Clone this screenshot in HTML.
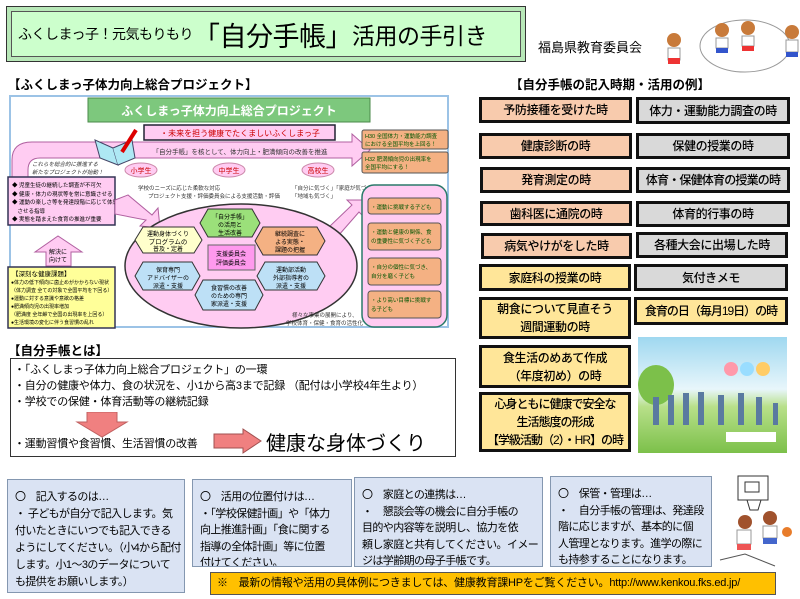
<!DOCTYPE html>
<html><head><meta charset="utf-8">
<style>
*{margin:0;padding:0;box-sizing:border-box}
body{width:800px;height:599px;background:#fff;position:relative;overflow:hidden;font-family:"Liberation Sans","Noto Sans CJK JP",sans-serif;color:#000}
.a{position:absolute}
.hd{font-size:12.5px;font-weight:bold;white-space:nowrap}
.rb{position:absolute;border:3px solid #111;font-size:12px;letter-spacing:-0.4px;display:flex;align-items:center;justify-content:center;text-align:center;line-height:18px;white-space:nowrap;font-weight:500}
.pk{background:#f8cbad}.ye{background:#ffe699}.gr{background:#d9d9d9}
.bx{position:absolute;background:#dae3f3;border:1.5px solid #8497b0;font-size:11px;letter-spacing:-0.6px;line-height:16.5px;padding:9px 4px 0 7px;white-space:nowrap;overflow:hidden}
</style></head><body>

<!-- Title -->
<div class="a" style="left:6px;top:6px;width:520px;height:56px;background:#ccffcc;border:1px solid #333;box-shadow:inset 0 0 0 4px #b8e8b8, inset 0 0 0 5px #555"></div>
<div class="a" style="left:18px;top:14px;height:40px;display:flex;align-items:center;white-space:nowrap;letter-spacing:-0.5px">
<span style="font-size:14px">ふくしまっ子！元気もりもり</span><span style="font-size:27px">「自分手帳」</span><span style="font-size:23px">活用の手引き</span></div>
<div class="a" style="left:538px;top:37px;font-size:13px">福島県教育委員会</div>
<svg class="a" style="left:630px;top:18px" width="170" height="60">
<ellipse cx="115" cy="28" rx="45" ry="26" fill="none" stroke="#999"/>
<circle cx="44" cy="22" r="7" fill="#c87a3a"/><rect x="38" y="30" width="12" height="12" fill="#fff" stroke="#999"/><rect x="38" y="40" width="12" height="6" fill="#e33"/>
<circle cx="92" cy="12" r="7" fill="#c87a3a"/><rect x="86" y="20" width="12" height="10" fill="#fff" stroke="#999"/><rect x="86" y="30" width="12" height="5" fill="#35c"/>
<circle cx="118" cy="10" r="7" fill="#c87a3a"/><rect x="112" y="18" width="12" height="10" fill="#fff" stroke="#999"/><rect x="112" y="28" width="12" height="5" fill="#e33"/>
<circle cx="162" cy="14" r="7" fill="#c87a3a"/><rect x="156" y="22" width="12" height="12" fill="#fff" stroke="#999"/><rect x="156" y="34" width="12" height="5" fill="#35c"/>
</svg>

<!-- Project section -->
<div class="a hd" style="left:8px;top:74px">【ふくしまっ子体力向上総合プロジェクト】</div>
<svg class="a" style="left:0;top:0" width="460" height="340" font-family="Liberation Sans, Noto Sans CJK JP, sans-serif">
<rect x="10" y="96" width="438" height="231" fill="#fff" stroke="#9cc3e6" stroke-width="2"/>
<path d="M12 178 V160 Q12 142 32 142 H352 V134 L370 150 L352 166 V158 H40 Q28 158 28 170 V178 Z" fill="#ffccf2" stroke="#b060a0"/>
<rect x="88" y="98" width="282" height="24" fill="#7dc87d" stroke="#4a8a4a"/>
<text x="229" y="115" font-size="12" fill="#fff" text-anchor="middle" font-weight="bold">ふくしまっ子体力向上総合プロジェクト</text>
<rect x="144" y="125" width="191" height="15" fill="#ffccf2" stroke="#223" stroke-width="1.5"/>
<text x="240" y="136" font-size="8" fill="#c00" text-anchor="middle">・未来を担う健康でたくましいふくしまっ子</text>
<text x="240" y="154" font-size="6.5" fill="#333" text-anchor="middle">「自分手帳」を核として、体力向上・肥満傾向の改善を推進</text>
<path d="M95 140 L113 148 L118 165 L100 158 Z" fill="#aee8f4" stroke="#446"/><path d="M118 165 L135 158 L132 140 L113 148" fill="#aee8f4" stroke="#446"/>
<line x1="122" y1="152" x2="136" y2="130" stroke="#d00" stroke-width="4"/>
<rect x="362" y="130" width="86" height="19" rx="2" fill="#f4b183" stroke="#555"/>
<text x="365" y="138" font-size="5.5" fill="#050">H30 全国体力・運動能力調査</text><text x="365" y="146" font-size="5.5" fill="#050">における全国平均を上回る！</text>
<rect x="362" y="152" width="86" height="21" rx="2" fill="#f4b183" stroke="#555"/>
<text x="365" y="161" font-size="5.5" fill="#050">H32 肥満傾向児の出現率を</text><text x="365" y="169" font-size="5.5" fill="#050">全国平均にする！</text>
<text x="32" y="166" font-size="5.5" fill="#333" font-style="italic">これらを総合的に推進する</text>
<text x="32" y="174" font-size="5.5" fill="#333" font-style="italic">新たなプロジェクトが始動！</text>
<ellipse cx="141" cy="170" rx="16" ry="7" fill="#ffccf2" stroke="#c8a"/><text x="141" y="173" font-size="7" fill="#c00" text-anchor="middle">小学生</text>
<ellipse cx="229" cy="170" rx="16" ry="7" fill="#ffccf2" stroke="#c8a"/><text x="229" y="173" font-size="7" fill="#c00" text-anchor="middle">中学生</text>
<ellipse cx="318" cy="170" rx="16" ry="7" fill="#ffccf2" stroke="#c8a"/><text x="318" y="173" font-size="7" fill="#c00" text-anchor="middle">高校生</text>
<text x="138" y="190" font-size="5.5" fill="#333">学校のニーズに応じた柔軟な対応</text>
<text x="148" y="198" font-size="5.5" fill="#333">プロジェクト支援・評価委員会による支援活動・評価</text>
<text x="292" y="190" font-size="5.5" fill="#333">「自分に気づく」「家庭が気づく」</text>
<text x="292" y="198" font-size="5.5" fill="#333">「地域も気づく」</text>
<rect x="8" y="177" width="107" height="48" fill="#ffccf2" stroke="#335" stroke-width="1.5"/>
<text x="12" y="187" font-size="5.5">◆ 児童生徒の継続した調査が不可欠</text>
<text x="12" y="196" font-size="5.5">◆ 健康・体力の現状等を常に意識させる</text>
<text x="12" y="204" font-size="5.5">◆ 運動の楽しさ等を発達段階に応じて体感</text>
<text x="12" y="213" font-size="5.5">　させる指導</text>
<text x="12" y="221" font-size="5.5">◆ 実態を踏まえた食育の推進が重要</text>
<path d="M115 200 L128 195 L152 215 L158 208 L160 228 L140 226 L146 220 L115 214 Z" fill="#ffccf2" stroke="#b060a0"/>
<path d="M328 228 L352 205 L347 200 L368 200 L365 218 L359 212 L338 236 Z" fill="#ffccf2" stroke="#b060a0"/>
<path d="M46 266 V252 H35 L58 236 L82 252 H71 V266 Z" fill="#ffccf2" stroke="#b060a0"/>
<text x="58" y="254" font-size="6" text-anchor="middle">解決に</text><text x="58" y="262" font-size="6" text-anchor="middle">向けて</text>
<rect x="8" y="267" width="107" height="61" fill="#ffff99" stroke="#335" stroke-width="1.5"/>
<text x="12" y="276" font-size="6.5">【深刻な健康課題】</text>
<text x="11" y="284" font-size="5">●体力の低下傾向に歯止めがかからない現状</text>
<text x="11" y="292" font-size="5">（体力調査 全ての対象で全国平均を下回る）</text>
<text x="11" y="300" font-size="5">●運動に対する意識や意欲の格差</text>
<text x="11" y="308" font-size="5">●肥満傾向児の出現率増加</text>
<text x="11" y="316" font-size="5">（肥満度 全年齢で全国の出現率を上回る）</text>
<text x="11" y="324" font-size="5">●生活環境の変化に伴う食習慣の乱れ</text>
<ellipse cx="241" cy="266" rx="116" ry="62" fill="#ffccf2" stroke="#333" stroke-width="1.5"/>
<polygon points="208,209 252,209 260,223 252,237 208,237 200,223" fill="#9be07a" stroke="#333"/>
<text x="230" y="219" font-size="6" text-anchor="middle">「自分手帳」</text><text x="230" y="227" font-size="6" text-anchor="middle">の活用と</text><text x="230" y="235" font-size="6" text-anchor="middle">生活改善</text>
<polygon points="143,227 194,227 202,240 194,253 143,253 135,240" fill="#ffffcc" stroke="#333"/>
<text x="168" y="236" font-size="6" text-anchor="middle">運動身体づくり</text><text x="168" y="244" font-size="6.5" text-anchor="middle">プログラムの</text><text x="168" y="251" font-size="6" text-anchor="middle">普及・定着</text>
<polygon points="263,227 317,227 325,241 317,255 263,255 255,241" fill="#f4b183" stroke="#333"/>
<text x="290" y="236" font-size="6" text-anchor="middle">継続調査に</text><text x="290" y="244" font-size="6" text-anchor="middle">よる実態・</text><text x="290" y="252" font-size="6" text-anchor="middle">課題の把握</text>
<rect x="208" y="245" width="47" height="25" fill="#ff99ee" stroke="#666"/>
<text x="231" y="256" font-size="6" text-anchor="middle">支援委員会</text><text x="231" y="265" font-size="6" text-anchor="middle">評価委員会</text>
<polygon points="143,262 192,262 200,276 192,290 143,290 135,276" fill="#bde0f6" stroke="#333"/>
<text x="168" y="272" font-size="6" text-anchor="middle">保育専門</text><text x="168" y="280" font-size="6" text-anchor="middle">アドバイザーの</text><text x="168" y="288" font-size="6" text-anchor="middle">派遣・支援</text>
<polygon points="265,262 317,262 325,276 317,290 265,290 257,276" fill="#bde0f6" stroke="#333"/>
<text x="291" y="272" font-size="6" text-anchor="middle">運動部活動</text><text x="291" y="280" font-size="6" text-anchor="middle">外部指導者の</text><text x="291" y="288" font-size="6" text-anchor="middle">派遣・支援</text>
<polygon points="203,280 255,280 263,295 255,310 203,310 195,295" fill="#bde0f6" stroke="#333"/>
<text x="229" y="290" font-size="6" text-anchor="middle">食習慣の改善</text><text x="229" y="298" font-size="6" text-anchor="middle">のための専門</text><text x="229" y="306" font-size="6" text-anchor="middle">家派遣・支援</text>
<text x="292" y="317" font-size="5.5" fill="#333">様々な事業の展開により、</text>
<text x="286" y="325" font-size="5.5" fill="#333">学校体育・保健・食育の活性化</text>
<rect x="362" y="185" width="85" height="142" rx="12" fill="#ffccf2" stroke="#2a7a6a" stroke-width="1.5"/>
<rect x="368" y="198" width="73" height="16" rx="3" fill="#f4b183" stroke="#555"/><text x="371" y="209" font-size="5.5" fill="#050">・運動に挑戦する子ども</text>
<rect x="368" y="223" width="73" height="27" rx="3" fill="#f4b183" stroke="#555"/><text x="371" y="234" font-size="5.5" fill="#050">・運動と健康の関係、食</text><text x="371" y="243" font-size="5.5" fill="#050">の重要性に気づく子ども</text>
<rect x="368" y="258" width="73" height="27" rx="3" fill="#f4b183" stroke="#555"/><text x="371" y="269" font-size="5.5" fill="#050">・自分の個性に気づき、</text><text x="371" y="278" font-size="5.5" fill="#050">自分を磨く子ども</text>
<rect x="368" y="291" width="73" height="27" rx="3" fill="#f4b183" stroke="#555"/><text x="371" y="302" font-size="5.5" fill="#050">・より高い目標に挑戦す</text><text x="371" y="311" font-size="5.5" fill="#050">る子ども</text>
</svg>

<!-- 自分手帳とは -->
<div class="a hd" style="left:8px;top:340px">【自分手帳とは】</div>
<div class="a" style="left:10px;top:358px;width:446px;height:99px;border:1px solid #333"></div>
<div class="a" style="left:14px;top:362px;font-size:11px;letter-spacing:-0.2px;line-height:16px;white-space:nowrap">・「ふくしまっ子体力向上総合プロジェクト」の一環<br>・自分の健康や体力、食の状況を、小1から高3まで記録 （配付は小学校4年生より）<br>・学校での保健・体育活動等の継続記録</div>
<svg class="a" style="left:75px;top:412px" width="60" height="26"><polygon points="12,0 42,0 42,10 52,10 27,25 2,10 12,10" fill="#f08080" stroke="#c06060"/></svg>
<div class="a" style="left:14px;top:435px;font-size:11px;letter-spacing:-0.2px;white-space:nowrap">・運動習慣や食習慣、生活習慣の改善</div>
<svg class="a" style="left:213px;top:428px" width="50" height="26"><polygon points="1,6 30,6 30,1 48,13 30,25 30,20 1,20" fill="#f08080" stroke="#a05050"/></svg>
<div class="a" style="left:266px;top:427px;font-size:20px;white-space:nowrap">健康な身体づくり</div>

<!-- Right column -->
<div class="a hd" style="left:510px;top:74px">【自分手帳の記入時期・活用の例】</div>
<div class="rb pk" style="left:479px;top:97px;width:153px;height:26px">予防接種を受けた時</div>
<div class="rb gr" style="left:636px;top:97px;width:154px;height:27px">体力・運動能力調査の時</div>
<div class="rb pk" style="left:479px;top:133px;width:153px;height:26px">健康診断の時</div>
<div class="rb gr" style="left:636px;top:133px;width:154px;height:26px">保健の授業の時</div>
<div class="rb pk" style="left:480px;top:167px;width:152px;height:26px">発育測定の時</div>
<div class="rb gr" style="left:636px;top:167px;width:154px;height:26px;letter-spacing:-0.8px">体育・保健体育の授業の時</div>
<div class="rb pk" style="left:480px;top:201px;width:152px;height:25px">歯科医に通院の時</div>
<div class="rb gr" style="left:636px;top:201px;width:154px;height:26px">体育的行事の時</div>
<div class="rb pk" style="left:481px;top:233px;width:151px;height:26px">病気やけがをした時</div>
<div class="rb gr" style="left:636px;top:232px;width:152px;height:26px">各種大会に出場した時</div>
<div class="rb ye" style="left:479px;top:264px;width:152px;height:27px">家庭科の授業の時</div>
<div class="rb gr" style="left:634px;top:264px;width:154px;height:27px">気付きメモ</div>
<div class="rb ye" style="left:479px;top:297px;width:152px;height:42px">朝食について見直そう<br>週間運動の時</div>
<div class="rb ye" style="left:634px;top:297px;width:154px;height:28px;letter-spacing:-1px">食育の日（毎月19日）の時</div>
<div class="rb ye" style="left:479px;top:345px;width:152px;height:43px">食生活のめあて作成<br>（年度初め）の時</div>
<div class="rb ye" style="left:479px;top:392px;width:152px;height:60px;letter-spacing:-1px">心身ともに健康で安全な<br>生活態度の形成<br>【学級活動（2）・HR】の時</div>
<svg class="a" style="left:638px;top:337px" width="149" height="116">
<defs><linearGradient id="g" x1="0" y1="0" x2="0" y2="1"><stop offset="0" stop-color="#9fd8f0"/><stop offset="0.45" stop-color="#e8f6fb"/><stop offset="0.6" stop-color="#b8e08a"/><stop offset="1" stop-color="#7cc04a"/></linearGradient></defs>
<rect width="149" height="116" fill="url(#g)"/>
<ellipse cx="18" cy="48" rx="18" ry="20" fill="#7cc04a"/>
<circle cx="93" cy="32" r="7" fill="#f9a"/><circle cx="109" cy="32" r="7" fill="#9df"/><circle cx="125" cy="32" r="7" fill="#fc6"/>
<g fill="#5a7aa0"><rect x="15" y="60" width="6" height="28"/><rect x="30" y="58" width="6" height="30"/><rect x="45" y="56" width="6" height="32"/><rect x="60" y="55" width="6" height="33"/><rect x="80" y="58" width="6" height="30"/><rect x="100" y="56" width="6" height="32"/><rect x="118" y="60" width="6" height="28"/><rect x="135" y="66" width="5" height="22"/></g>
<rect x="88" y="95" width="50" height="10" fill="#fff"/>
</svg>

<!-- bottom boxes -->
<div class="bx" style="left:7px;top:479px;width:178px;height:114px;line-height:17px">〇　記入するのは…<br>・ 子どもが自分で記入します。気<br>付いたときにいつでも記入できる<br>ようにしてください。（小4から配付<br>します。小1～3のデータについて<br>も提供をお願いします。）</div>
<div class="bx" style="left:192px;top:479px;width:160px;height:88px">〇　活用の位置付けは…<br>・「学校保健計画」や「体力<br>向上推進計画」「食に関する<br>指導の全体計画」等に位置<br>付けてください。</div>
<div class="bx" style="left:354px;top:477px;width:189px;height:90px">〇　家庭との連携は…<br>・　懇談会等の機会に自分手帳の<br>目的や内容等を説明し、協力を依<br>頼し家庭と共有してください。イメー<br>ジは学齢期の母子手帳です。</div>
<div class="bx" style="left:550px;top:476px;width:162px;height:91px">〇　保管・管理は…<br>・　自分手帳の管理は、発達段<br>階に応じますが、基本的に個<br>人管理となります。進学の際に<br>も持参することになります。</div>
<div class="a" style="left:210px;top:572px;width:566px;height:23px;background:#ffc000;border:1px solid #555;font-size:11px;letter-spacing:-0.2px;line-height:21px;padding-left:6px;white-space:nowrap;overflow:hidden">※　最新の情報や活用の具体例につきましては、健康教育課HPをご覧ください。http://www.kenkou.fks.ed.jp/</div>
<svg class="a" style="left:715px;top:470px" width="85" height="100">
<rect x="23" y="6" width="30" height="24" fill="#fff" stroke="#333"/><rect x="30" y="12" width="14" height="10" fill="none" stroke="#333"/>
<path d="M32 30 h14 l-3 10 h-8 z" fill="none" stroke="#333"/>
<circle cx="30" cy="52" r="7" fill="#a0522d"/><rect x="22" y="60" width="14" height="14" fill="#fff" stroke="#999"/><rect x="22" y="74" width="14" height="6" fill="#e55"/>
<circle cx="55" cy="48" r="7" fill="#a0522d"/><rect x="48" y="56" width="14" height="12" fill="#fff" stroke="#999"/><rect x="48" y="68" width="14" height="6" fill="#46c"/>
<circle cx="72" cy="62" r="5" fill="#e87c2a"/>
<path d="M5 90 L30 84 L60 96" fill="none" stroke="#555"/>
</svg>
</body></html>
